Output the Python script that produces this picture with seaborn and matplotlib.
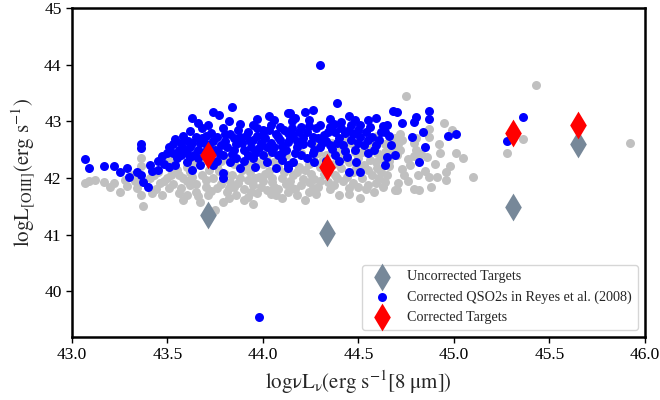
import matplotlib
matplotlib.use("Agg")
import matplotlib.pyplot as plt
import seaborn as sns
import pandas as pd

# Parent QSO2 sample (uncorrected), drawn as a grey background cloud
gray_pts = [
    (43.07, 41.91), (43.09, 41.95), (43.17, 41.93), (43.22, 41.91), (43.25, 41.76), (43.29, 41.86),
    (43.34, 41.83), (43.36, 41.70), (43.37, 41.51), (43.42, 41.74), (43.41, 42.00), (43.46, 41.91),
    (43.50, 42.00), (43.51, 41.83), (43.56, 41.74), (43.36, 42.35), (43.36, 42.21), (43.51, 42.32),
    (43.56, 42.05), (43.58, 42.00), (43.62, 41.88), (43.65, 41.76), (43.71, 41.70), (43.76, 41.83),
    (43.81, 41.76), (43.86, 41.70), (43.92, 41.67), (43.97, 41.74), (44.02, 41.79), (44.07, 41.70),
    (44.13, 41.76), (43.74, 42.00), (43.83, 41.93), (43.92, 41.97), (43.98, 42.02), (44.05, 41.93),
    (44.10, 42.00), (43.97, 42.28), (44.02, 42.41), (44.09, 42.35), (43.92, 42.18), (43.74, 42.58),
    (43.79, 41.58), (43.75, 41.44), (43.67, 41.58), (43.60, 41.70), (44.15, 42.28), (44.18, 42.11),
    (44.24, 41.93), (44.15, 41.83), (44.18, 41.70), (44.24, 41.76), (44.29, 41.85), (44.34, 41.93),
    (44.39, 42.00), (44.45, 41.83), (44.51, 41.65), (44.50, 41.85), (44.55, 41.88), (44.59, 41.91),
    (44.64, 41.93), (44.69, 41.79), (44.57, 42.05), (44.62, 42.11), (44.65, 42.05), (44.53, 42.23),
    (44.59, 42.28), (44.45, 42.28), (44.41, 42.18), (44.30, 42.20), (44.26, 42.35), (44.39, 42.46),
    (44.43, 42.50), (44.48, 42.46), (44.52, 42.46), (44.57, 42.50), (44.60, 42.44), (44.64, 42.46),
    (44.67, 42.64), (44.69, 42.70), (44.46, 42.62), (44.36, 42.62), (44.27, 42.58), (44.13, 42.81),
    (44.71, 41.91), (44.75, 43.45), (44.95, 42.97), (44.99, 42.85), (44.87, 42.87), (44.87, 42.72),
    (44.73, 42.67), (44.71, 42.60), (44.79, 42.62), (45.01, 42.44), (45.05, 42.35), (44.86, 42.37),
    (44.79, 42.39), (44.76, 42.34), (44.77, 42.23), (44.73, 42.16), (44.98, 42.21), (44.96, 42.11),
    (44.85, 42.13), (44.87, 42.02), (44.91, 42.02), (44.96, 41.97), (45.10, 42.02), (44.88, 41.84),
    (44.79, 41.81), (44.82, 41.79), (44.70, 41.79), (45.43, 43.64), (45.92, 42.62), (45.36, 42.69),
    (45.28, 42.44), (43.45, 42.10), (43.48, 41.95), (43.53, 41.90), (43.55, 42.15), (43.60, 41.95),
    (43.62, 42.10), (43.65, 41.90), (43.68, 42.05), (43.70, 41.85), (43.72, 42.15), (43.78, 41.90),
    (43.80, 42.08), (43.85, 41.85), (43.88, 42.00), (43.90, 41.80), (43.93, 42.10), (43.95, 41.88),
    (44.00, 41.95), (44.03, 42.12), (44.06, 41.85), (44.08, 42.20), (44.12, 41.90), (44.16, 42.05),
    (44.20, 41.88), (44.22, 42.15), (44.27, 41.98), (44.32, 42.08), (44.35, 41.80), (44.37, 42.25),
    (44.42, 41.95), (44.47, 42.10), (44.50, 42.35), (44.55, 42.15), (44.62, 42.35), (44.66, 42.22),
    (44.68, 42.50), (43.85, 42.25), (43.78, 42.30), (43.68, 42.30), (44.00, 42.25), (44.20, 42.45),
    (44.33, 42.40), (43.44, 41.80), (43.33, 41.95), (43.28, 41.97), (43.47, 41.70), (43.58, 41.62),
    (43.90, 41.62), (44.10, 41.65), (44.28, 41.72), (44.40, 41.70), (44.58, 41.75), (44.64, 42.60),
    (44.55, 42.60), (44.43, 42.70), (44.60, 42.75), (44.80, 42.50), (43.52, 42.05), (43.57, 41.82),
    (43.63, 42.02), (43.66, 41.68), (43.70, 41.97), (43.73, 41.78), (43.77, 42.12), (43.82, 41.82),
    (43.84, 42.05), (43.87, 41.92), (43.89, 42.15), (43.94, 41.75), (43.96, 42.00), (43.99, 41.85),
    (44.01, 42.08), (44.04, 41.72), (44.05, 42.00), (44.08, 41.80), (44.11, 42.10), (44.14, 41.95),
    (44.17, 41.80), (44.19, 42.20), (44.21, 41.98), (44.25, 42.08), (44.26, 41.82), (44.30, 41.95),
    (44.31, 42.30), (44.34, 42.15), (44.37, 41.88), (44.38, 42.05), (44.42, 42.35), (44.44, 42.02),
    (44.47, 41.92), (44.49, 42.18), (44.52, 42.00), (44.54, 41.80), (44.56, 42.32), (44.60, 42.18),
    (44.61, 42.00), (44.63, 41.85), (44.66, 42.30), (44.70, 42.40), (44.72, 42.50), (44.74, 42.05),
    (44.76, 41.95), (44.81, 42.05), (44.83, 42.42), (44.90, 42.25), (44.93, 42.45), (43.60, 42.20),
    (43.64, 42.28), (43.76, 42.22), (43.82, 42.35), (43.94, 42.32), (44.06, 42.28), (44.12, 42.40),
    (44.24, 42.25), (44.29, 42.45), (44.41, 42.55), (44.49, 42.62), (44.58, 42.65), (44.72, 42.78),
    (44.80, 42.70), (44.92, 42.60), (43.43, 42.05), (43.32, 42.05), (43.20, 41.85), (43.12, 41.97),
    (43.95, 41.55), (43.82, 41.65), (44.22, 41.62), (44.45, 41.72),
]

# Reddening-corrected QSO2s from Reyes et al. (2008)
blue_pts = [
    (43.07, 42.34), (43.09, 42.18), (43.17, 42.21), (43.22, 42.21), (43.25, 42.11), (43.29, 42.18),
    (43.30, 42.02), (43.34, 42.11), (43.36, 42.05), (43.36, 42.60), (43.36, 42.53), (43.41, 42.23),
    (43.42, 42.13), (43.45, 42.14), (43.37, 41.93), (43.40, 41.85), (43.47, 42.39), (43.51, 42.55),
    (43.54, 42.69), (43.51, 42.20), (43.54, 42.23), (43.56, 42.50), (43.84, 43.25), (43.63, 43.06),
    (43.74, 43.17), (43.71, 42.94), (43.79, 42.88), (44.13, 43.15), (43.73, 42.79), (43.76, 42.72),
    (43.62, 42.83), (43.65, 42.72), (43.61, 42.65), (43.58, 42.53), (43.57, 42.41), (43.63, 42.62),
    (43.64, 42.41), (43.60, 42.28), (43.67, 42.23), (43.63, 42.14), (43.74, 42.23), (43.79, 42.41),
    (43.81, 42.55), (43.85, 42.50), (43.88, 42.72), (43.92, 42.81), (43.95, 42.94), (43.97, 42.88),
    (44.04, 42.94), (44.06, 43.02), (44.09, 42.90), (44.13, 42.79), (44.00, 42.76), (43.95, 42.67),
    (44.04, 42.62), (44.09, 42.67), (43.98, 42.53), (44.05, 42.46), (44.10, 42.44), (43.92, 42.41),
    (43.86, 42.35), (43.83, 42.28), (43.88, 42.18), (43.79, 42.09), (43.79, 42.00), (43.96, 42.20),
    (44.02, 42.28), (44.07, 42.18), (44.13, 42.23), (43.69, 42.46), (44.30, 43.99), (44.39, 43.33),
    (44.68, 43.18), (44.59, 43.06), (44.14, 43.15), (44.17, 43.06), (44.22, 43.17), (44.26, 43.20),
    (44.24, 43.02), (44.20, 42.90), (44.30, 42.94), (44.35, 42.90), (44.41, 42.99), (44.46, 42.94),
    (44.51, 42.94), (44.38, 42.81), (44.43, 42.79), (44.32, 42.76), (44.26, 42.72), (44.21, 42.70),
    (44.16, 42.76), (44.13, 42.64), (44.18, 42.55), (44.25, 42.62), (44.30, 42.55), (44.51, 42.72),
    (44.55, 42.67), (44.59, 42.58), (44.57, 42.72), (44.65, 42.94), (44.62, 42.81), (44.64, 42.81),
    (44.50, 42.62), (44.49, 42.28), (44.51, 42.11), (44.45, 42.11), (44.20, 42.41), (44.16, 42.28),
    (44.13, 42.18), (44.38, 42.41), (44.64, 42.23), (44.65, 42.37), (44.69, 42.41), (44.67, 42.58),
    (44.87, 43.18), (44.80, 43.08), (44.79, 42.99), (44.73, 42.97), (44.87, 43.04), (44.84, 42.81),
    (44.78, 42.72), (44.97, 42.74), (45.01, 42.78), (44.85, 42.55), (44.82, 42.28), (44.70, 43.17),
    (45.36, 43.08), (45.28, 42.65), (43.98, 39.55), (43.70, 42.60), (43.75, 42.50), (43.68, 42.70),
    (43.80, 42.65), (43.83, 42.78), (43.86, 42.60), (43.90, 42.50), (43.93, 42.65), (43.97, 42.75),
    (44.00, 42.85), (44.02, 42.55), (44.07, 42.78), (44.10, 42.57), (44.15, 42.88), (44.18, 42.65),
    (44.23, 42.82), (44.27, 42.50), (44.28, 42.88), (44.33, 42.65), (44.36, 42.52), (44.40, 42.70),
    (44.42, 42.58), (44.45, 42.85), (44.48, 42.50), (44.54, 42.82), (43.58, 42.75), (43.55, 42.35),
    (43.66, 42.35), (43.72, 42.35), (43.90, 42.30), (44.00, 42.40), (44.10, 42.32), (44.23, 42.35),
    (44.33, 42.30), (44.44, 42.38), (44.55, 42.45), (43.50, 42.45), (43.45, 42.30), (43.82, 43.00),
    (43.68, 42.88), (44.15, 43.00), (44.35, 43.05), (43.77, 43.12), (44.55, 43.02), (43.60, 42.45),
    (43.62, 42.55), (43.66, 42.50), (43.67, 42.62), (43.70, 42.75), (43.72, 42.55), (43.74, 42.65),
    (43.77, 42.45), (43.78, 42.58), (43.80, 42.78), (43.84, 42.42), (43.85, 42.70), (43.87, 42.85),
    (43.89, 42.62), (43.91, 42.75), (43.94, 42.55), (43.96, 42.45), (43.99, 42.62), (44.01, 42.70),
    (44.03, 42.85), (44.06, 42.55), (44.08, 42.72), (44.11, 42.85), (44.12, 42.50), (44.14, 42.70),
    (44.17, 42.45), (44.19, 42.82), (44.21, 42.60), (44.24, 42.92), (44.26, 42.45), (44.29, 42.70),
    (44.31, 42.62), (44.34, 42.82), (44.35, 42.58), (44.37, 42.95), (44.39, 42.62), (44.41, 42.88),
    (44.43, 42.48), (44.46, 42.68), (44.47, 42.78), (44.50, 42.85), (44.53, 42.58), (44.56, 42.90),
    (44.58, 42.50), (44.61, 42.68), (44.63, 42.92), (44.66, 42.75), (43.53, 42.60), (43.57, 42.62),
    (43.48, 42.25), (43.62, 42.38), (43.76, 42.30), (43.95, 42.35), (44.08, 42.40), (44.27, 42.28),
    (44.40, 42.30), (43.88, 42.95), (43.97, 43.05), (44.03, 43.10), (44.45, 43.10), (44.48, 43.02),
    (43.66, 42.98), (43.53, 42.45),
]

# Our targets: mid-IR luminosity and [OIII] luminosity before/after correction
target_lmir = [43.71, 44.335, 45.31, 45.65]
target_loiii_uncorr = [41.35, 41.03, 41.49, 42.60]
target_loiii_corr = [42.41, 42.20, 42.80, 42.94]

gray_df = pd.DataFrame(gray_pts, columns=["lmir", "loiii"])
blue_df = pd.DataFrame(blue_pts, columns=["lmir", "loiii"])
targets = pd.DataFrame({
    "lmir": target_lmir,
    "uncorr": target_loiii_uncorr,
    "corr": target_loiii_corr,
})

sns.set_style("ticks")
plt.rcParams["font.family"] = ["Liberation Serif", "DejaVu Serif"]
plt.rcParams["mathtext.fontset"] = "stix"

fig, ax = plt.subplots(figsize=(6.6, 4.0), dpi=100)
fig.subplots_adjust(left=0.109, right=0.977, top=0.98, bottom=0.158)

sns.scatterplot(data=gray_df, x="lmir", y="loiii", color="silver", s=42,
                linewidth=0, ax=ax, zorder=1)
sns.scatterplot(data=targets, x="lmir", y="uncorr", color="lightslategray", marker="d",
                s=200, linewidth=0, ax=ax, label="Uncorrected Targets", zorder=2)
sns.scatterplot(data=blue_df, x="lmir", y="loiii", color="blue", s=42,
                linewidth=0, ax=ax, label="Corrected QSO2s in Reyes et al. (2008)", zorder=3)
sns.scatterplot(data=targets, x="lmir", y="corr", color="red", marker="d",
                s=200, linewidth=0, ax=ax, label="Corrected Targets", zorder=4)

ax.set_xlim(43.0, 46.0)
ax.set_ylim(39.2, 45.0)
ax.set_xticks([43.0, 43.5, 44.0, 44.5, 45.0, 45.5, 46.0])
ax.set_xticklabels(["43.0", "43.5", "44.0", "44.5", "45.0", "45.5", "46.0"])
ax.set_yticks([40, 41, 42, 43, 44, 45])

ax.set_xlabel(r"$\rm log\nu L_{\nu}(erg\ s^{-1}[8\ \mu m])$", fontsize=15)
ax.set_ylabel(r"$\rm logL_{[OIII]}(erg\ s^{-1})$", fontsize=15)
ax.tick_params(labelsize=12.5, length=4, width=1, color="black", labelcolor="black")
for side in ["left", "right", "top", "bottom"]:
    ax.spines[side].set_visible(True)
    ax.spines[side].set_color("black")
    ax.spines[side].set_linewidth(1.8)

ax.legend(loc="lower right", fontsize=10.2, frameon=True)

fig.savefig("out.png", dpi=100)
